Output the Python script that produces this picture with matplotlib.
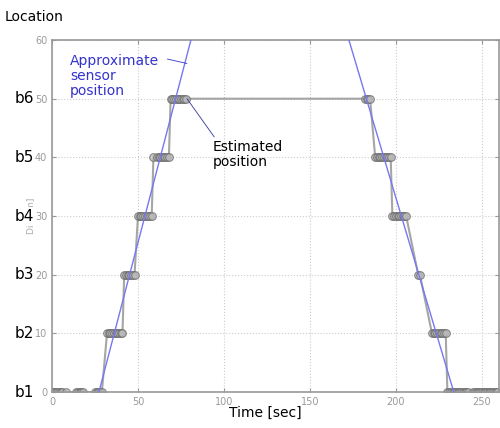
import matplotlib
matplotlib.use("Agg")
import matplotlib.pyplot as plt
import numpy as np

# Estimated position (time [sec], distance [m])
est_time = [0, 1, 2, 3, 4, 5, 6, 8,
            14, 15, 16, 17, 18,
            25, 26, 27, 28, 29,
            32, 33, 34, 35, 36, 37, 38, 39, 40, 41,
            42, 43, 44, 45, 46, 47, 48,
            50, 51, 52, 53, 54, 55, 56, 57, 58,
            59, 61, 62, 63, 64, 65, 66, 67, 68,
            69, 70, 71, 72, 73, 74, 75, 76, 77, 78,
            182, 183, 184, 185,
            188, 189, 190, 191, 192, 193, 194, 195, 196, 197,
            198, 199, 200, 201, 202, 203, 204, 205, 206,
            213, 214,
            221, 222, 223, 224, 225, 226, 227, 228, 229,
            230, 231, 232, 233, 234, 235, 236, 237, 238, 239, 240, 241, 242,
            245, 246, 247, 248, 249, 250, 251, 252, 253, 254, 255, 256, 257, 258, 259]
est_pos = [0, 0, 0, 0, 0, 0, 0, 0,
           0, 0, 0, 0, 0,
           0, 0, 0, 0, 0,
           10, 10, 10, 10, 10, 10, 10, 10, 10, 10,
           20, 20, 20, 20, 20, 20, 20,
           30, 30, 30, 30, 30, 30, 30, 30, 30,
           40, 40, 40, 40, 40, 40, 40, 40, 40,
           50, 50, 50, 50, 50, 50, 50, 50, 50, 50,
           50, 50, 50, 50,
           40, 40, 40, 40, 40, 40, 40, 40, 40, 40,
           30, 30, 30, 30, 30, 30, 30, 30, 30,
           20, 20,
           10, 10, 10, 10, 10, 10, 10, 10, 10,
           0, 0, 0, 0, 0, 0, 0, 0, 0, 0, 0, 0, 0,
           0, 0, 0, 0, 0, 0, 0, 0, 0, 0, 0, 0, 0, 0, 0]

# Approximate sensor position (two ramps)
up_time = [27.3, 80.8]
up_pos = [0, 60]
down_time = [172.7, 233.7]
down_pos = [60, 0]

loc_labels = ["b1", "b2", "b3", "b4", "b5", "b6"]
loc_values = [0, 10, 20, 30, 40, 50]
yticks = [0, 10, 20, 30, 40, 50, 60]
xticks = [0, 50, 100, 150, 200, 250]

fig = plt.figure(figsize=(5, 4.28), dpi=100)
ax = fig.add_axes([0.104, 0.084, 0.894, 0.8225])

ax.plot(est_time, est_pos, color="#888888", lw=1.5, marker="o", ms=5.5,
        mfc="#bbbbbb", mec="#666666", mew=0.8, alpha=0.75, zorder=2)
ax.plot(up_time, up_pos, color="#7777f0", lw=1.0, zorder=3)
ax.plot(down_time, down_pos, color="#7777f0", lw=1.0, zorder=3)

ax.set_xlim(0, 260)
ax.set_ylim(0, 60)
ax.set_xticks(xticks)
ax.set_yticks(yticks)
ax.grid(True, color="#cccccc", linestyle=":", lw=0.8)
ax.tick_params(direction="in", labelsize=7, colors="#999999", length=3,
               top=True, right=True)
for s in ax.spines.values():
    s.set_color("#999999")
    s.set_linewidth(1.2)
ax.set_ylabel("Dist [m]", fontsize=6.5, color="#aaaaaa", labelpad=0)

# Location labels
for lab, v in zip(loc_labels, loc_values):
    ax.annotate(lab, xy=(0, v), xycoords=("axes fraction", "data"),
                xytext=(-27, 0), textcoords="offset points",
                ha="left", va="center", fontsize=11, color="black",
                bbox=dict(boxstyle="square,pad=0.1", fc="white", ec="none"),
                annotation_clip=False)

fig.text(0.01, 0.96, "Location", fontsize=10, ha="left", va="center")
fig.text(0.53, 0.035, "Time [sec]", fontsize=10, ha="center", va="center")

# Annotations
ax.annotate("Approximate\nsensor\nposition", xy=(78.5, 56.0), xytext=(10.5, 57.6),
            fontsize=10, color="#3333cc", ha="left", va="top", linespacing=1.1,
            arrowprops=dict(arrowstyle="-", color="#3333cc", lw=0.6,
                            shrinkA=4, shrinkB=0, relpos=(1.0, 0.93)))
ax.annotate("Estimated\nposition", xy=(78.5, 50), xytext=(93.5, 43.0),
            fontsize=10, color="black", ha="left", va="top", linespacing=1.1,
            arrowprops=dict(arrowstyle="-", color="#333399", lw=0.6,
                            shrinkA=0, shrinkB=0, relpos=(0.05, 1.0)))

fig.savefig("out.png", dpi=100)
